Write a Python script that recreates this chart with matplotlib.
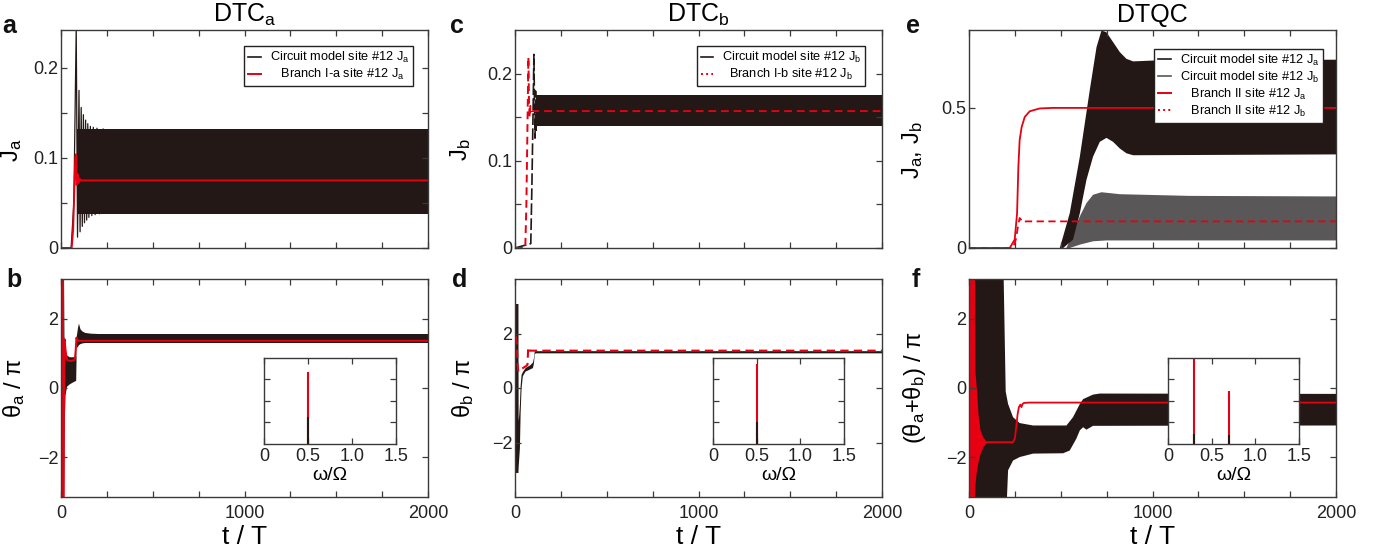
import numpy as np
import matplotlib
matplotlib.use('Agg')
import matplotlib.pyplot as plt
from matplotlib.lines import Line2D

plt.rcParams['font.family'] = ['Liberation Sans', 'DejaVu Sans']
plt.rcParams['mathtext.fontset'] = 'custom'
plt.rcParams['mathtext.rm'] = 'Liberation Sans'
plt.rcParams['mathtext.it'] = 'Liberation Sans:italic'
plt.rcParams['mathtext.bf'] = 'Liberation Sans:bold'

BLACK = '#231815'
RED = '#E60012'
GRAY = '#595757'
FRAME = '#3a3a3a'

# ---------------- data ----------------
# Panel a : J_a, DTC_a
a_spk_t = [0, 55, 70, 83, 90, 98, 104, 110, 116, 122, 128, 134, 140, 146, 152, 160, 168, 176, 186, 196, 210, 230]
a_spk_v = [0, 0, 0.05, 0.245, 0.012, 0.175, 0.018, 0.156, 0.024, 0.148, 0.028, 0.142, 0.031, 0.138, 0.034, 0.135,
           0.036, 0.134, 0.037, 0.133, 0.038, 0.132]
a_band_t = [85, 2000]
a_band_up = [0.132, 0.132]
a_band_lo = [0.038, 0.038]
a_red_t = [0, 58, 66, 72, 78, 82, 86, 90, 95, 100, 110, 2000]
a_red_v = [0, 0, 0.02, 0.06, 0.1, 0.104, 0.07, 0.082, 0.072, 0.077, 0.075, 0.075]

# Panel c : J_b, DTC_b
c_blk_t = [0, 86, 92, 98, 103, 106, 109, 112, 115, 118]
c_blk_v = [0, 0.005, 0.07, 0.15, 0.222, 0.17, 0.126, 0.18, 0.135, 0.16]
c_band_t = [116, 2000]
c_band_up = [0.176, 0.176]
c_band_lo = [0.14, 0.14]
c_red_t = [0, 56, 62, 68, 73, 76, 80, 84, 90, 2000]
c_red_v = [0, 0, 0.05, 0.14, 0.219, 0.17, 0.15, 0.163, 0.157, 0.157]

# Panel e : J_a, J_b, DTQC
e_ja_up_t = [495, 549, 604, 658, 695, 722, 749, 785, 822, 858, 895, 1004, 2000]
e_ja_up = [0, 0.124, 0.326, 0.563, 0.717, 0.776, 0.77, 0.735, 0.699, 0.675, 0.666, 0.669, 0.672]
e_ja_lo_t = [513, 567, 604, 640, 676, 713, 749, 785, 822, 858, 895, 2000]
e_ja_lo = [0, 0.03, 0.124, 0.243, 0.326, 0.379, 0.393, 0.379, 0.355, 0.338, 0.331, 0.334]
e_jb_up_t = [531, 567, 604, 640, 676, 722, 822, 1200, 2000]
e_jb_up = [0, 0.053, 0.113, 0.16, 0.19, 0.199, 0.192, 0.186, 0.184]
e_jb_lo_t = [549, 604, 676, 749, 2000]
e_jb_lo = [0, 0.012, 0.024, 0.027, 0.027]
e_red_a_t = [0, 222, 249, 262, 269, 276, 287, 304, 331, 385, 458, 2000]
e_red_a_v = [0, 0, 0.03, 0.124, 0.29, 0.385, 0.432, 0.468, 0.488, 0.498, 0.5, 0.5]
e_red_b_t = [0, 240, 255, 267, 276, 285, 295, 310, 2000]
e_red_b_v = [0, 0, 0.03, 0.077, 0.107, 0.1, 0.092, 0.095, 0.095]

# Panel b : theta_a / pi
b_env_t = [0, 14, 16, 18, 22, 30, 45, 65, 80, 83, 86, 90, 95, 104, 115, 130, 160, 200, 2000]
b_env_up = [3.14, 3.14, 1.5, 1.4, 1.2, 0.95, 0.9, 0.9, 0.92, 1.5, 1.6, 1.75, 1.87, 1.7, 1.64, 1.6, 1.58, 1.57, 1.57]
b_env_lo = [-3.14, -3.14, -1.5, -0.9, -0.2, 0.05, 0.12, 0.18, 0.22, 1.15, 1.18, 1.2, 1.25, 1.28, 1.3, 1.31, 1.31,
            1.31, 1.31]
b_red_env_t = [0, 15]
b_red_env_up = [3.14, 3.14]
b_red_env_lo = [-3.14, -3.14]
b_red_t = [15, 17, 20, 26, 35, 50, 70, 76, 80, 84, 88, 95, 2000]
b_red_v = [-3.14, 0.5, 1.4, 1.0, 0.8, 0.78, 0.8, 0.85, 1.1, 1.45, 1.4, 1.36, 1.36]
b_ins_w = [0.5]
b_ins_red = [0.83]
b_ins_blk = [0.31]

# Panel d : theta_b / pi
d_env_t = [0, 16, 17, 20, 24, 28, 33, 40, 55, 80, 95, 100, 105, 110, 2000]
d_env_up = [3.1, 3.1, -1.2, -1.0, -0.6, 0.1, 0.5, 0.6, 0.75, 0.85, 0.95, 1.1, 1.36, 1.37, 1.37]
d_env_lo = [-3.1, -3.1, -2.9, -2.6, -2.2, -0.9, 0.0, 0.45, 0.62, 0.7, 0.75, 0.9, 1.25, 1.29, 1.29]
d_red_t = [5, 10, 14, 18, 25, 40, 60, 68, 72, 76, 80, 2000]
d_red_v = [1.9, 1.6, 0.9, 0.6, 0.65, 0.72, 0.8, 0.85, 1.5, 1.42, 1.37, 1.37]
d_ins_w = [0.5]
d_ins_red = [0.93]
d_ins_blk = [0.26]

# Panel f : (theta_a + theta_b) / pi
f_up_t = [0, 189, 200, 213, 240, 276, 349, 531, 567, 604, 622, 676, 713, 2000]
f_up = [3.14, 3.14, -0.1, -0.46, -0.84, -1.01, -1.08, -1.08, -0.84, -0.46, -0.32, -0.19, -0.16, -0.17]
f_lo_t = [0, 207, 213, 240, 276, 349, 513, 549, 585, 604, 622, 640, 676, 2000]
f_lo = [-3.14, -3.14, -2.37, -2.09, -1.99, -1.89, -1.88, -1.8, -1.46, -1.22, -1.13, -1.2, -1.09, -1.08]
f_red_env_t = [0, 30, 32, 40, 50, 60, 75, 95]
f_red_env_up = [3.14, 3.14, 0.5, 0.0, -0.8, -1.2, -1.4, -1.55]
f_red_env_lo = [-3.14, -3.14, -2.8, -2.4, -2.1, -1.9, -1.7, -1.57]
f_red_t = [95, 240, 250, 258, 265, 272, 280, 286, 292, 300, 330, 2000]
f_red_v = [-1.56, -1.56, -1.45, -1.1, -0.75, -0.55, -0.48, -0.55, -0.46, -0.43, -0.42, -0.42]
f_ins_w = [0.3, 0.7]
f_ins_red = [1.0, 0.615]
f_ins_blk = [0.12, 0.10]

x_major = [0, 1000, 2000]
x_minor = [250, 500, 750, 1250, 1500, 1750]
ins_ticks = [0, 0.5, 1.0, 1.5]
ins_labels = ['0', '0.5', '1.0', '1.5']

# ---------------- figure ----------------
W, H = 1387, 555
fig = plt.figure(figsize=(W / 100, H / 100), dpi=100)

AXW = 367 / W
AXH = 218 / H
lefts = [61 / W, 515 / W, 969 / W]
bot_top = (H - 248) / H
bot_bot = (H - 497) / H

TICK_FS = 13


def style(ax, ylim, ymaj, ymin, bottom):
    ax.set_xlim(0, 2000)
    ax.set_ylim(*ylim)
    ax.set_xticks(x_major)
    ax.set_xticks(x_minor, minor=True)
    ax.set_yticks(ymaj)
    ax.set_yticks(ymin, minor=True)
    for s in ax.spines.values():
        s.set_color(FRAME)
        s.set_linewidth(1.0)
    ax.tick_params(which='both', direction='in', top=True, right=True, length=4, width=0.9,
                   color=FRAME, labelsize=TICK_FS, labelcolor='#222222')
    ax.tick_params(axis='y', pad=2)
    ax.tick_params(axis='x', pad=6)
    if not bottom:
        ax.tick_params(axis='x', labelbottom=False)
    else:
        ax.set_xlabel('t / T', fontsize=19, labelpad=2)


def inset(rect, w, red, blk):
    ia = fig.add_axes(rect)
    ia.set_xlim(0, 1.5)
    ia.set_ylim(0, 1)
    ia.vlines(w, 0, red, color=RED, lw=1.5)
    ia.vlines(w, 0, blk, color=BLACK, lw=1.5)
    ia.set_xticks(ins_ticks)
    ia.set_xticklabels(ins_labels)
    ia.set_yticks([0.25, 0.5, 0.75])
    ia.set_yticklabels([])
    for s in ia.spines.values():
        s.set_color(FRAME)
        s.set_linewidth(1.0)
    ia.tick_params(which='both', direction='in', top=True, right=True, length=4, width=0.9,
                   color=FRAME, labelsize=TICK_FS, labelcolor='#222222', pad=3)
    ia.set_xlabel('ω/Ω', fontsize=14, labelpad=1)
    return ia


def legend(ax, handles, labels, anchor):
    lg = ax.legend(handles, labels, loc='upper right', bbox_to_anchor=anchor, fontsize=9.2,
                   frameon=True, fancybox=False, edgecolor='#222222', framealpha=1,
                   handlelength=1.0, handletextpad=0.7, labelspacing=0.15, borderpad=0.3,
                   borderaxespad=0)
    lg.get_frame().set_linewidth(1.0)
    return lg


# ----- a -----
ax = fig.add_axes([lefts[0], bot_top, AXW, AXH])
ax.fill_between(a_band_t, a_band_lo, a_band_up, color=BLACK, lw=0)
ax.plot(a_spk_t, a_spk_v, color=BLACK, lw=0.9)
ax.plot(a_red_t, a_red_v, color=RED, lw=1.4)
style(ax, (0, 0.242), [0, 0.1, 0.2], [0.05, 0.15], False)
ax.set_yticklabels(['0', '0.1', '0.2'])
ax.set_ylabel(r'J$_\mathrm{a}$', fontsize=17)
ax.yaxis.set_label_coords(-0.10, 0.45)
ax.set_title(r'DTC$_\mathrm{a}$', fontsize=18, pad=6)
legend(ax, [Line2D([], [], color=BLACK, lw=1.2), Line2D([], [], color=RED, lw=1.4)],
       [r'Circuit model site #12 J$_\mathrm{a}$', r'   Branch I-a site #12 J$_\mathrm{a}$'], (0.96, 0.925))

# ----- c -----
ax = fig.add_axes([lefts[1], bot_top, AXW, AXH])
ax.fill_between(c_band_t, c_band_lo, c_band_up, color=BLACK, lw=0)
ax.plot(c_blk_t, c_blk_v, color=BLACK, lw=1.2, ls=(0, (7, 2)))
ax.plot(c_red_t, c_red_v, color=RED, lw=1.4, ls=(0, (4, 2.5)))
style(ax, (0, 0.25), [0, 0.1, 0.2], [0.05, 0.15], False)
ax.set_yticklabels(['0', '0.1', '0.2'])
ax.set_ylabel(r'J$_\mathrm{b}$', fontsize=17)
ax.yaxis.set_label_coords(-0.115, 0.45)
ax.set_title(r'DTC$_\mathrm{b}$', fontsize=18, pad=6)
legend(ax, [Line2D([], [], color=BLACK, lw=1.2), Line2D([], [], color=RED, lw=1.4, ls=':')],
       [r'Circuit model site #12 J$_\mathrm{b}$', r'  Branch I-b site #12 J$_\mathrm{b}$'], (0.955, 0.925))

# ----- e -----
ax = fig.add_axes([lefts[2], bot_top, AXW, AXH])
ax.fill(np.concatenate([e_jb_up_t, e_jb_lo_t[::-1]]), np.concatenate([e_jb_up, e_jb_lo[::-1]]),
        color=GRAY, lw=0)
ax.fill(np.concatenate([e_ja_up_t, e_ja_lo_t[::-1]]), np.concatenate([e_ja_up, e_ja_lo[::-1]]),
        color=BLACK, lw=0)
ax.plot(e_red_a_t, e_red_a_v, color=RED, lw=1.3)
ax.plot(e_red_b_t, e_red_b_v, color=RED, lw=1.3, ls=(0, (4, 2.5)))
style(ax, (0, 0.778), [0, 0.5], [], False)
ax.set_yticklabels(['0', '0.5'])
ax.set_ylabel(r'J$_\mathrm{a}$, J$_\mathrm{b}$', fontsize=17)
ax.yaxis.set_label_coords(-0.12, 0.45)
ax.set_title('DTQC', fontsize=18, pad=6)
legend(ax, [Line2D([], [], color=BLACK, lw=1.2), Line2D([], [], color=GRAY, lw=1.2),
            Line2D([], [], color=RED, lw=1.4), Line2D([], [], color=RED, lw=1.4, ls=':')],
       [r'Circuit model site #12 J$_\mathrm{a}$', r'Circuit model site #12 J$_\mathrm{b}$',
        r'   Branch II site #12 J$_\mathrm{a}$', r'   Branch II site #12 J$_\mathrm{b}$'], (0.965, 0.913))

# ----- b -----
ax = fig.add_axes([lefts[0], bot_bot, AXW, AXH])
ax.fill_between(b_env_t, b_env_lo, b_env_up, color=BLACK, lw=0)
ax.fill_between(b_red_env_t, b_red_env_lo, b_red_env_up, color=RED, lw=0)
ax.plot(b_red_t, b_red_v, color=RED, lw=1.4)
style(ax, (-3.14, 3.14), [-2, 0, 2], [], True)
ax.set_ylabel(r'θ$_\mathrm{a}$ / π', fontsize=17)
ax.yaxis.set_label_coords(-0.092, 0.5)
inset([264 / W, (H - 444) / H, 132 / W, 86.5 / H], b_ins_w, b_ins_red, b_ins_blk)

# ----- d -----
ax = fig.add_axes([lefts[1], bot_bot, AXW, AXH])
ax.fill_between(d_env_t, d_env_lo, d_env_up, color=BLACK, lw=0)
ax.plot(d_red_t, d_red_v, color=RED, lw=1.5, ls=(0, (4, 2.5)))
style(ax, (-4, 4), [-2, 0, 2], [], True)
ax.set_ylabel(r'θ$_\mathrm{b}$ / π', fontsize=17)
ax.yaxis.set_label_coords(-0.105, 0.5)
inset([713 / W, (H - 444) / H, 131 / W, 86.5 / H], d_ins_w, d_ins_red, d_ins_blk)

# ----- f -----
ax = fig.add_axes([lefts[2], bot_bot, AXW, AXH])
ax.fill(np.concatenate([f_up_t, f_lo_t[::-1]]), np.concatenate([f_up, f_lo[::-1]]), color=BLACK, lw=0)
ax.fill_between(f_red_env_t, f_red_env_lo, f_red_env_up, color=RED, lw=0)
ax.plot(f_red_t, f_red_v, color=RED, lw=1.3)
style(ax, (-3.14, 3.14), [-2, 0, 2], [], True)
ax.set_ylabel(r'(θ$_\mathrm{a}$+θ$_\mathrm{b}$) / π', fontsize=17)
ax.yaxis.set_label_coords(-0.113, 0.5)
inset([1168 / W, (H - 444) / H, 131 / W, 86.5 / H], f_ins_w, f_ins_red, f_ins_blk)

# panel letters
for txt, x, y in [('a', 2, 33), ('c', 450, 33), ('e', 906, 33), ('b', 6, 287), ('d', 452, 287), ('f', 912, 287)]:
    fig.text(x / W, 1 - y / H, txt, fontsize=18, fontweight='bold', va='baseline', ha='left', color='#111111')

fig.savefig('out.png', dpi=100)
